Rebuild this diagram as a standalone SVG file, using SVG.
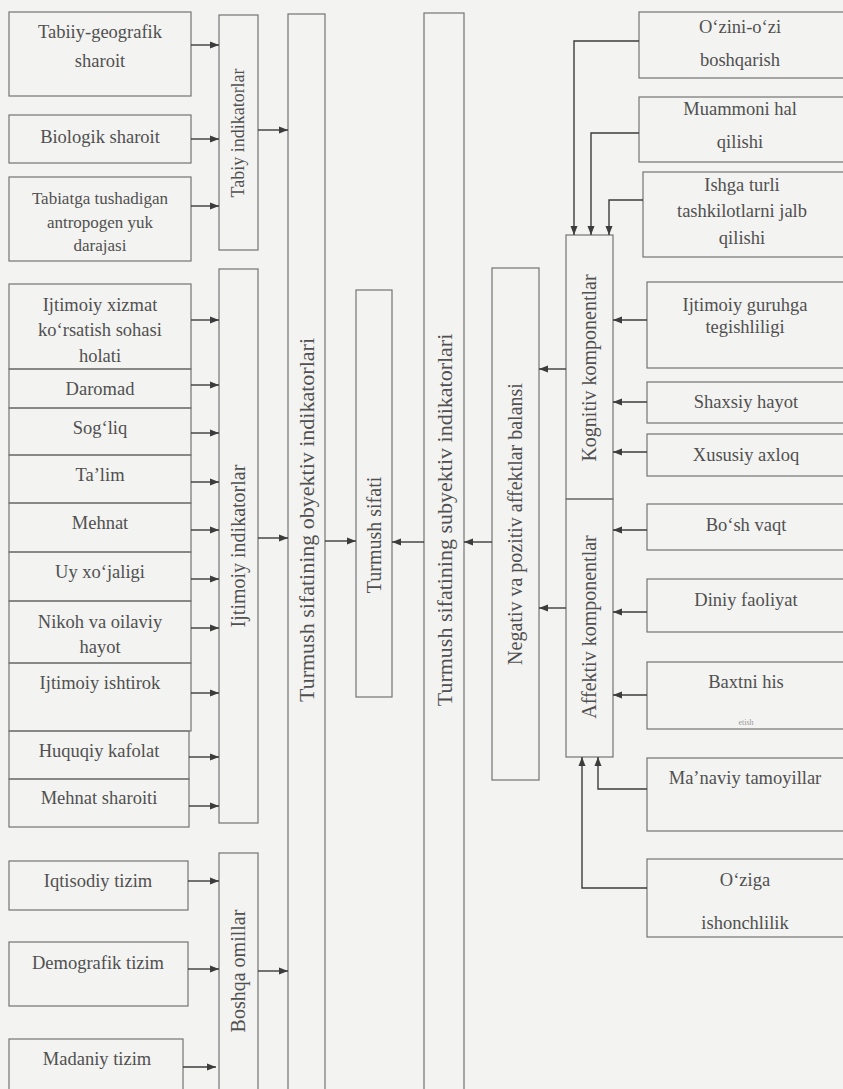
<svg xmlns="http://www.w3.org/2000/svg" width="843" height="1089" viewBox="0 0 843 1089">
<style>
.bx{fill:none;stroke:#747474;stroke-width:1.2}
.t{font-family:"Liberation Serif","Times New Roman",serif;font-size:18.5px;fill:#505050;text-anchor:middle;dominant-baseline:central}
.v{font-family:"Liberation Serif","Times New Roman",serif;font-size:20px;fill:#505050;text-anchor:middle;dominant-baseline:central}
.c{fill:none;stroke:#3c3c3c;stroke-width:1.4}
</style>
<defs>
<marker id="ah" markerUnits="userSpaceOnUse" markerWidth="10" markerHeight="8" refX="9" refY="4" orient="auto">
<path d="M0,0.5 L9,4 L0,7.5 Z" fill="#3c3c3c"/>
</marker>
</defs>
<rect width="843" height="1089" fill="#f3f3f1"/>

<g id="n-tabiiy-geografik"><rect class="bx" x="9" y="12" width="182" height="84"/><text class="t" x="100" y="32">Tabiiy-geografik</text><text class="t" x="100" y="61">sharoit</text></g>
<g id="n-biologik"><rect class="bx" x="9" y="115" width="182" height="48"/><text class="t" x="100" y="137">Biologik sharoit</text></g>
<g id="n-tabiatga"><rect class="bx" x="9" y="177" width="182" height="84"/><text class="t" x="100" y="198" style="font-size:17px">Tabiatga tushadigan</text><text class="t" x="100" y="222" style="font-size:17px">antropogen yuk</text><text class="t" x="100" y="245" style="font-size:17px">darajasi</text></g>

<g id="n-ijt-xizmat"><rect class="bx" x="9" y="284" width="182" height="85"/><text class="t" x="100" y="305">Ijtimoiy xizmat</text><text class="t" x="100" y="330">ko‘rsatish sohasi</text><text class="t" x="100" y="356">holati</text></g>
<g id="n-daromad"><rect class="bx" x="9" y="369" width="182" height="39"/><text class="t" x="100" y="389">Daromad</text></g>
<g id="n-sogliq"><rect class="bx" x="9" y="408" width="182" height="47"/><text class="t" x="100" y="428">Sog‘liq</text></g>
<g id="n-talim"><rect class="bx" x="9" y="455" width="182" height="48"/><text class="t" x="100" y="475">Ta’lim</text></g>
<g id="n-mehnat"><rect class="bx" x="9" y="503" width="182" height="49"/><text class="t" x="100" y="523">Mehnat</text></g>
<g id="n-uy"><rect class="bx" x="9" y="552" width="182" height="49"/><text class="t" x="100" y="572">Uy xo‘jaligi</text></g>
<g id="n-nikoh"><rect class="bx" x="9" y="601" width="182" height="62"/><text class="t" x="100" y="622">Nikoh va oilaviy</text><text class="t" x="100" y="647">hayot</text></g>
<g id="n-ishtirok"><rect class="bx" x="9" y="663" width="182" height="68"/><text class="t" x="100" y="683">Ijtimoiy ishtirok</text></g>
<g id="n-huquqiy"><rect class="bx" x="9" y="731" width="180" height="48"/><text class="t" x="99" y="751">Huquqiy kafolat</text></g>
<g id="n-mehnat-sharoiti"><rect class="bx" x="9" y="779" width="180" height="48"/><text class="t" x="99" y="798">Mehnat sharoiti</text></g>

<g id="n-iqtisodiy"><rect class="bx" x="9" y="861" width="179" height="49"/><text class="t" x="98" y="881">Iqtisodiy tizim</text></g>
<g id="n-demografik"><rect class="bx" x="9" y="942" width="179" height="64"/><text class="t" x="98" y="963">Demografik tizim</text></g>
<g id="n-madaniy"><rect class="bx" x="9" y="1039" width="174" height="60"/><text class="t" x="97" y="1059">Madaniy tizim</text></g>

<g id="n-tabiy-ind"><rect class="bx" x="219" y="15" width="39" height="235"/><text class="v" transform="translate(238,133) rotate(-90)" style="font-size:18px">Tabiy indikatorlar</text></g>
<g id="n-ijt-ind"><rect class="bx" x="219" y="269" width="39" height="554"/><text class="v" transform="translate(238,546) rotate(-90)">Ijtimoiy indikatorlar</text></g>
<g id="n-boshqa"><rect class="bx" x="219" y="853" width="39" height="250"/><text class="v" transform="translate(238,971) rotate(-90)">Boshqa omillar</text></g>

<g id="n-obyektiv"><rect class="bx" x="288" y="14" width="37" height="1090"/><text class="v" transform="translate(306,520) rotate(-90)" style="font-size:22px">Turmush sifatining obyektiv indikatorlari</text></g>
<g id="n-turmush-sifati"><rect class="bx" x="356" y="290" width="36" height="407"/><text class="v" transform="translate(374,535) rotate(-90)">Turmush sifati</text></g>
<g id="n-subyektiv"><rect class="bx" x="424" y="13" width="40" height="1090"/><text class="v" transform="translate(444,520) rotate(-90)" style="font-size:22px">Turmush sifatining subyektiv indikatorlari</text></g>
<g id="n-negativ"><rect class="bx" x="492" y="268" width="47" height="512"/><text class="v" transform="translate(515,524) rotate(-90)">Negativ va pozitiv affektlar balansi</text></g>
<g id="n-kognitiv"><rect class="bx" x="566" y="235" width="47" height="264"/><text class="v" transform="translate(589,368) rotate(-90)">Kognitiv komponentlar</text></g>
<g id="n-affektiv"><rect class="bx" x="566" y="499" width="47" height="258"/><text class="v" transform="translate(589,627) rotate(-90)">Affektiv komponentlar</text></g>

<g id="n-ozini"><rect class="bx" x="639" y="12" width="210" height="66"/><text class="t" x="740" y="27">O‘zini-o‘zi</text><text class="t" x="740" y="60">boshqarish</text></g>
<g id="n-muammoni"><rect class="bx" x="639" y="97" width="210" height="65"/><text class="t" x="740" y="109">Muammoni hal</text><text class="t" x="740" y="142">qilishi</text></g>
<g id="n-ishga"><rect class="bx" x="643" y="172" width="206" height="85"/><text class="t" x="742" y="185">Ishga turli</text><text class="t" x="742" y="211">tashkilotlarni jalb</text><text class="t" x="742" y="238">qilishi</text></g>
<g id="n-guruh"><rect class="bx" x="647" y="282" width="202" height="86"/><text class="t" x="745" y="305">Ijtimoiy guruhga</text><text class="t" x="745" y="327">tegishliligi</text></g>
<g id="n-shaxsiy"><rect class="bx" x="647" y="382" width="202" height="41"/><text class="t" x="746" y="402">Shaxsiy hayot</text></g>
<g id="n-xususiy"><rect class="bx" x="647" y="434" width="202" height="42"/><text class="t" x="746" y="455">Xususiy axloq</text></g>
<g id="n-boshvaqt"><rect class="bx" x="647" y="504" width="202" height="46"/><text class="t" x="746" y="525">Bo‘sh vaqt</text></g>
<g id="n-diniy"><rect class="bx" x="647" y="579" width="202" height="53"/><text class="t" x="746" y="600">Diniy faoliyat</text></g>
<g id="n-baxt"><rect class="bx" x="647" y="662" width="202" height="67"/><text class="t" x="746" y="682">Baxtni his</text><text class="t" x="746" y="722" style="font-size:8px;fill:#9a9a9a">etish</text></g>
<g id="n-manaviy"><rect class="bx" x="647" y="758" width="202" height="73"/><text class="t" x="745" y="778">Ma’naviy tamoyillar</text></g>
<g id="n-oziga"><rect class="bx" x="647" y="859" width="202" height="78"/><text class="t" x="745" y="880">O‘ziga</text><text class="t" x="745" y="923">ishonchlilik</text></g>

<g id="connectors">
<line class="c" x1="191" y1="45" x2="219" y2="45" marker-end="url(#ah)"/>
<line class="c" x1="191" y1="139" x2="219" y2="139" marker-end="url(#ah)"/>
<line class="c" x1="191" y1="206" x2="219" y2="206" marker-end="url(#ah)"/>
<line class="c" x1="191" y1="320" x2="219" y2="320" marker-end="url(#ah)"/>
<line class="c" x1="191" y1="385" x2="219" y2="385" marker-end="url(#ah)"/>
<line class="c" x1="191" y1="433" x2="219" y2="433" marker-end="url(#ah)"/>
<line class="c" x1="191" y1="482" x2="219" y2="482" marker-end="url(#ah)"/>
<line class="c" x1="191" y1="530" x2="219" y2="530" marker-end="url(#ah)"/>
<line class="c" x1="191" y1="579" x2="219" y2="579" marker-end="url(#ah)"/>
<line class="c" x1="191" y1="628" x2="219" y2="628" marker-end="url(#ah)"/>
<line class="c" x1="191" y1="693" x2="219" y2="693" marker-end="url(#ah)"/>
<line class="c" x1="189" y1="757" x2="219" y2="757" marker-end="url(#ah)"/>
<line class="c" x1="189" y1="806" x2="219" y2="806" marker-end="url(#ah)"/>
<line class="c" x1="188" y1="881" x2="219" y2="881" marker-end="url(#ah)"/>
<line class="c" x1="188" y1="969" x2="219" y2="969" marker-end="url(#ah)"/>
<line class="c" x1="183" y1="1067" x2="216" y2="1067" marker-end="url(#ah)"/>
<line class="c" x1="258" y1="130" x2="288" y2="130" marker-end="url(#ah)"/>
<line class="c" x1="258" y1="538" x2="288" y2="538" marker-end="url(#ah)"/>
<line class="c" x1="258" y1="971" x2="288" y2="971" marker-end="url(#ah)"/>
<line class="c" x1="325" y1="541" x2="356" y2="541" marker-end="url(#ah)"/>
<line class="c" x1="424" y1="542" x2="392" y2="542" marker-end="url(#ah)"/>
<line class="c" x1="492" y1="542" x2="464" y2="542" marker-end="url(#ah)"/>
<line class="c" x1="566" y1="369" x2="539" y2="369" marker-end="url(#ah)"/>
<line class="c" x1="566" y1="608" x2="539" y2="608" marker-end="url(#ah)"/>
<line class="c" x1="647" y1="320" x2="613" y2="320" marker-end="url(#ah)"/>
<line class="c" x1="647" y1="402" x2="613" y2="402" marker-end="url(#ah)"/>
<line class="c" x1="647" y1="452" x2="613" y2="452" marker-end="url(#ah)"/>
<line class="c" x1="647" y1="530" x2="613" y2="530" marker-end="url(#ah)"/>
<line class="c" x1="647" y1="612" x2="613" y2="612" marker-end="url(#ah)"/>
<line class="c" x1="647" y1="695" x2="613" y2="695" marker-end="url(#ah)"/>
<polyline class="c" points="639,41 574,41 574,235" marker-end="url(#ah)"/>
<polyline class="c" points="639,133 591,133 591,235" marker-end="url(#ah)"/>
<polyline class="c" points="643,200 609,200 609,235" marker-end="url(#ah)"/>
<polyline class="c" points="647,789 598,789 598,757" marker-end="url(#ah)"/>
<polyline class="c" points="647,888 582,888 582,757" marker-end="url(#ah)"/>
</g>
</svg>
